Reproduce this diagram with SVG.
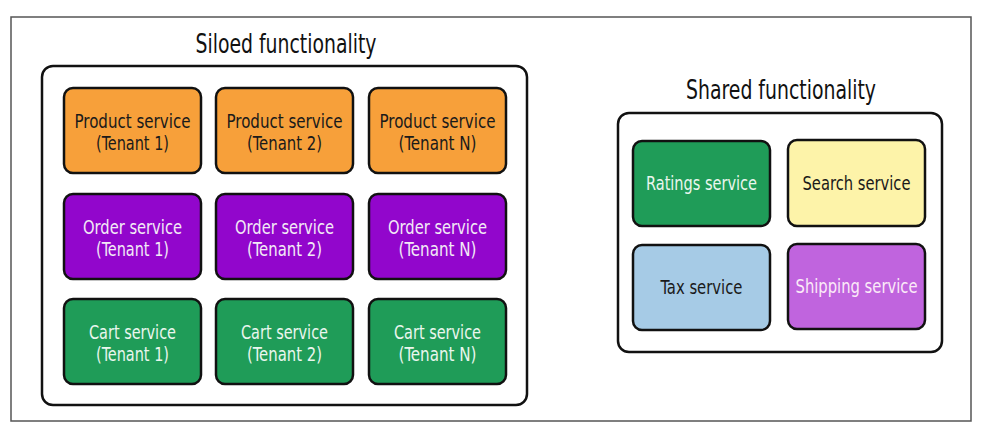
<svg xmlns="http://www.w3.org/2000/svg" width="982" height="432" viewBox="0 0 982 432">
<style>
text{font-family:"DejaVu Sans Condensed","Open Sans","Liberation Sans",sans-serif;text-anchor:middle}
.title{font-size:26px;fill:#111}
.lbl{font-size:20px}
.box{stroke:#111;stroke-width:2.5}
.cont{fill:#fff;stroke:#111;stroke-width:2.5}
.orange{fill:#F7A03A}
.purple{fill:#9206CC}
.green{fill:#1F9C58}
.yellow{fill:#FDF3A9}
.blue{fill:#A6CBE6}
.violet{fill:#C064DE}
.dark{fill:#1a1a1a}
.light{fill:#F2EAF6}
.lgreen{fill:#EAF6EE}
</style>
<rect x="11" y="17" width="960" height="404" fill="#fff" stroke="#555" stroke-width="1.5"/>
<g id="siloed">
<text class="title" x="286" y="53" textLength="181" lengthAdjust="spacingAndGlyphs">Siloed functionality</text>
<rect class="cont" x="42" y="66" width="485" height="339" rx="11"/>
</g>
<g id="shared">
<text class="title" x="781" y="99" textLength="190" lengthAdjust="spacingAndGlyphs">Shared functionality</text>
<rect class="cont" x="618" y="113" width="324" height="239" rx="11"/>
</g>
<g id="connectors"/>
<g id="product1"><rect class="box orange" x="64" y="88" width="137" height="85" rx="9"/><text class="lbl dark" x="132.5" y="128" textLength="116" lengthAdjust="spacingAndGlyphs">Product service</text><text class="lbl dark" x="132.5" y="150" textLength="73" lengthAdjust="spacingAndGlyphs">(Tenant 1)</text></g>
<g id="product2"><rect class="box orange" x="216" y="88" width="137" height="85" rx="9"/><text class="lbl dark" x="284.5" y="128" textLength="116" lengthAdjust="spacingAndGlyphs">Product service</text><text class="lbl dark" x="284.5" y="150" textLength="75" lengthAdjust="spacingAndGlyphs">(Tenant 2)</text></g>
<g id="productN"><rect class="box orange" x="369" y="88" width="137" height="85" rx="9"/><text class="lbl dark" x="437.5" y="128" textLength="116" lengthAdjust="spacingAndGlyphs">Product service</text><text class="lbl dark" x="437.5" y="150" textLength="78" lengthAdjust="spacingAndGlyphs">(Tenant N)</text></g>
<g id="order1"><rect class="box purple" x="64" y="194" width="137" height="85" rx="9"/><text class="lbl light" x="132.5" y="234" textLength="99" lengthAdjust="spacingAndGlyphs">Order service</text><text class="lbl light" x="132.5" y="256" textLength="73" lengthAdjust="spacingAndGlyphs">(Tenant 1)</text></g>
<g id="order2"><rect class="box purple" x="216" y="194" width="137" height="85" rx="9"/><text class="lbl light" x="284.5" y="234" textLength="99" lengthAdjust="spacingAndGlyphs">Order service</text><text class="lbl light" x="284.5" y="256" textLength="75" lengthAdjust="spacingAndGlyphs">(Tenant 2)</text></g>
<g id="orderN"><rect class="box purple" x="369" y="194" width="137" height="85" rx="9"/><text class="lbl light" x="437.5" y="234" textLength="99" lengthAdjust="spacingAndGlyphs">Order service</text><text class="lbl light" x="437.5" y="256" textLength="78" lengthAdjust="spacingAndGlyphs">(Tenant N)</text></g>
<g id="cart1"><rect class="box green" x="64" y="299" width="137" height="85" rx="9"/><text class="lbl lgreen" x="132.5" y="339" textLength="87" lengthAdjust="spacingAndGlyphs">Cart service</text><text class="lbl lgreen" x="132.5" y="361" textLength="73" lengthAdjust="spacingAndGlyphs">(Tenant 1)</text></g>
<g id="cart2"><rect class="box green" x="216" y="299" width="137" height="85" rx="9"/><text class="lbl lgreen" x="284.5" y="339" textLength="87" lengthAdjust="spacingAndGlyphs">Cart service</text><text class="lbl lgreen" x="284.5" y="361" textLength="75" lengthAdjust="spacingAndGlyphs">(Tenant 2)</text></g>
<g id="cartN"><rect class="box green" x="369" y="299" width="137" height="85" rx="9"/><text class="lbl lgreen" x="437.5" y="339" textLength="87" lengthAdjust="spacingAndGlyphs">Cart service</text><text class="lbl lgreen" x="437.5" y="361" textLength="78" lengthAdjust="spacingAndGlyphs">(Tenant N)</text></g>
<g id="ratings"><rect class="box green" x="633" y="141" width="137" height="85" rx="9"/><text class="lbl lgreen" x="701.5" y="190" textLength="111" lengthAdjust="spacingAndGlyphs">Ratings service</text></g>
<g id="search"><rect class="box yellow" x="788" y="140" width="137" height="86" rx="9"/><text class="lbl dark" x="856.5" y="190" textLength="108" lengthAdjust="spacingAndGlyphs">Search service</text></g>
<g id="tax"><rect class="box blue" x="633" y="245" width="137" height="85" rx="9"/><text class="lbl dark" x="701.5" y="294" textLength="82" lengthAdjust="spacingAndGlyphs">Tax service</text></g>
<g id="shipping"><rect class="box violet" x="788" y="244" width="137" height="85" rx="9"/><text class="lbl" fill="#FBEAF8" x="856.5" y="293" textLength="122" lengthAdjust="spacingAndGlyphs">Shipping service</text></g>
</svg>
